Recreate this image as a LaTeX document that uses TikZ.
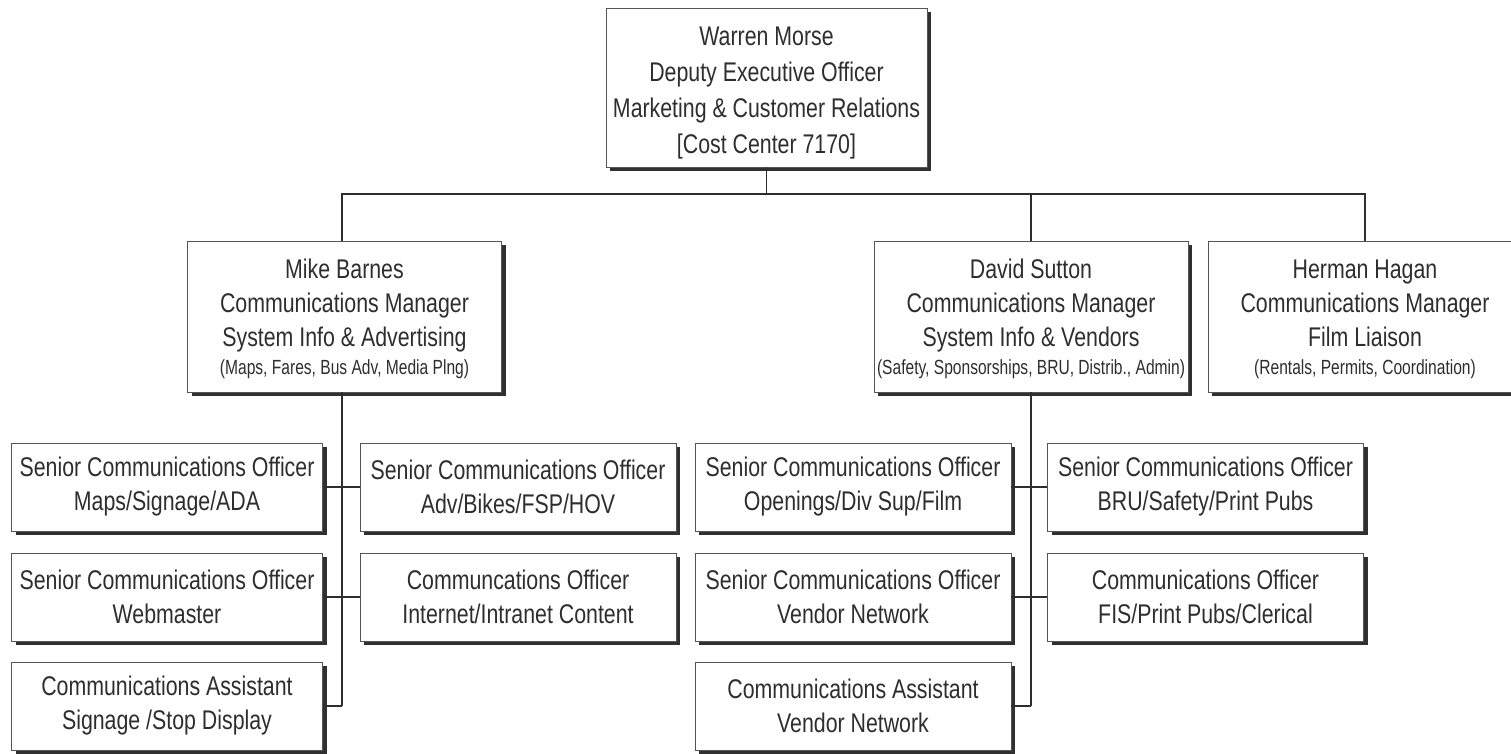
\documentclass[tikz,border=0pt]{standalone}
\usepackage{fontspec}
\setmainfont{Liberation Sans}[FakeStretch=0.79]
\newfontfamily\narrowsmall{Liberation Sans}[FakeStretch=0.76]
\usetikzlibrary{shadows}
\definecolor{ink}{HTML}{2E2E2E}
\definecolor{edge}{HTML}{555555}
\definecolor{shade}{HTML}{303030}
\newcommand{\topstrut}[1]{\rule{0pt}{#1}}
\newcommand{\subline}[1]{{\narrowsmall\fontsize{20.5}{26}\selectfont #1}}
\begin{document}
\begin{tikzpicture}[x=1pt,y=-1pt,
  box/.style={draw=edge,line width=0.9pt,fill=white,text=ink,align=center,inner sep=0pt,
    drop shadow={shadow xshift=4pt,shadow yshift=-4pt,fill=shade,opacity=1},
    font=\fontsize{27}{34}\selectfont},
  topbox/.style={box,minimum width=321pt,minimum height=159pt,font=\fontsize{27}{36}\selectfont},
  mgr/.style={box,minimum width=314pt,minimum height=151pt},
  offl/.style={box,minimum width=311pt,minimum height=88pt},
  offr/.style={box,minimum width=316pt,minimum height=88pt},
  conn/.style={draw=ink,line width=1.6pt}]
\useasboundingbox (0,0) rectangle (1511,753);
\node[topbox] (top) at (766.5,87.5) {\topstrut{29pt}Warren Morse\\Deputy Executive Officer\\Marketing \& Customer Relations\\{[}Cost Center 7170{]}};

\node[mgr] (mike) at (344.5,316.5) {\topstrut{25pt}Mike Barnes\\Communications Manager\\System Info \& Advertising\\[-6pt]\subline{(Maps, Fares, Bus Adv, Media Plng)}};
\node[mgr] (david) at (1031,316.5) {\topstrut{25pt}David Sutton\\Communications Manager\\System Info \& Vendors\\[-6pt]\subline{(Safety, Sponsorships, BRU, Distrib., Admin)}};
\node[mgr] (herman) at (1365,316.5) {\topstrut{25pt}Herman Hagan\\Communications Manager\\Film Liaison\\[-6pt]\subline{(Rentals, Permits, Coordination)}};

% Mike's staff
\node[offl] (m1) at (167,487) {Senior Communications Officer\\Maps/Signage/ADA};
\node[offr] (m2) at (518,487) {Senior Communications Officer\\Adv/Bikes/FSP/HOV};
\node[offl] (m3) at (167,597) {Senior Communications Officer\\Webmaster};
\node[offr] (m4) at (518,597) {Communcations Officer\\Internet/Intranet Content};
\node[offl] (m5) at (167,706) {Communications Assistant\\Signage /Stop Display};

% David's staff
\node[offr] (d1) at (853,487) {Senior Communications Officer\\Openings/Div Sup/Film};
\node[offr] (d2) at (1205.5,487) {Senior Communications Officer\\BRU/Safety/Print Pubs};
\node[offr] (d3) at (853,597) {Senior Communications Officer\\Vendor Network};
\node[offr] (d4) at (1205.5,597) {Communications Officer\\FIS/Print Pubs/Clerical};
\node[offr] (d5) at (853,706) {Communications Assistant\\Vendor Network};

% connectors top level
\coordinate (bus) at (766.5,194);
\draw[conn] (top.south) -- (bus);
\draw[conn] (mike.north -| 342,0) |- (bus) -| (herman.north);
\draw[conn] (bus) -| (david.north);

% Mike spine
\coordinate (ms) at (342,706);
\draw[conn] (mike.south -| ms) -- (ms);
\draw[conn] (m1.east) -- (m2.west);
\draw[conn] (m3.east) -- (m4.west);
\draw[conn] (m5.east) -- (ms);

% David spine
\coordinate (ds) at (1031,706);
\draw[conn] (david.south) -- (ds);
\draw[conn] (d1.east) -- (d2.west);
\draw[conn] (d3.east) -- (d4.west);
\draw[conn] (d5.east) -- (ds);
\end{tikzpicture}
\end{document}
